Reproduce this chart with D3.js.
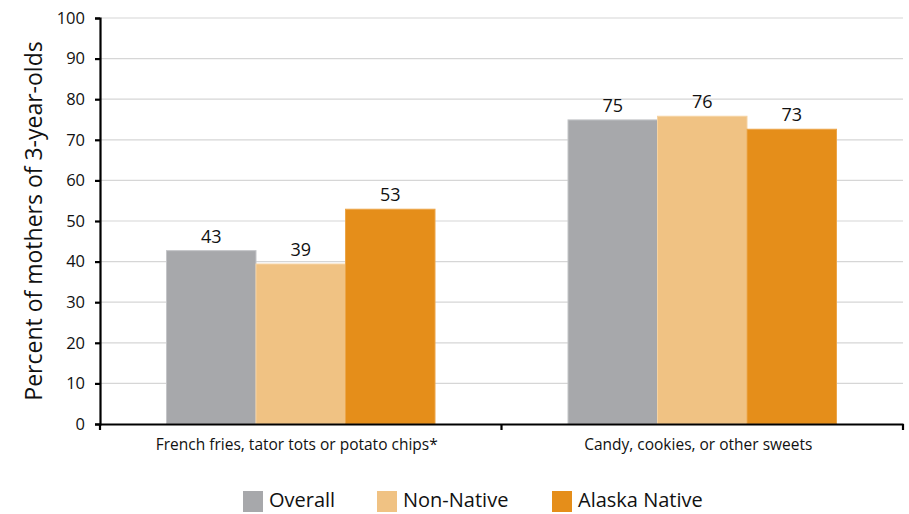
<!DOCTYPE html>
<html><head><meta charset="utf-8">
<script src="https://cdn.jsdelivr.net/npm/d3@7"></script>
<style>body{margin:0;background:#fff}svg{display:block}</style>
</head><body>
<svg id="c" width="909" height="514"></svg>
<script>
const categories = ["French fries, tator tots or potato chips*", "Candy, cookies, or other sweets"];
const seriesNames = ["Overall", "Non-Native", "Alaska Native"];
const overall = [42.7, 74.9];
const nonNative = [39.4, 75.8];
const alaskaNative = [52.9, 72.6];
const yTicks = [0, 10, 20, 30, 40, 50, 60, 70, 80, 90, 100];
const colors = ["#a7a8ab", "#f0c283", "#e58e1a"];
const strokes = ["#c4c5c8", "#f5d3a3", "#eca64a"];

const series = [overall, nonNative, alaskaNative];
const svg = d3.select("#c");
const L = 100, R = 903, T = 18, B = 424;
const font = "'Open Sans', sans-serif";

const x0 = d3.scaleBand().domain(categories).range([L, R]).paddingInner(0).paddingOuter(0);
const x1 = d3.scaleBand().domain(seriesNames).range([66.5, x0.bandwidth() - 66.5]);
const y = d3.scaleLinear().domain([0, 100]).range([B, T]);

// gridlines
svg.append("g").selectAll("line").data(yTicks.filter(d => d > 0)).join("line")
  .attr("x1", L).attr("x2", R).attr("y1", d => y(d)).attr("y2", d => y(d))
  .attr("stroke", "#d6d6d6").attr("stroke-width", 1.2);

// bars
const g = svg.append("g");
categories.forEach((c, i) => {
  series.forEach((s, j) => {
    const bx = x0(c) + x1(seriesNames[j]);
    g.append("rect").attr("x", bx).attr("y", y(s[i])).attr("width", x1.bandwidth())
      .attr("height", B - y(s[i])).attr("fill", colors[j])
      .attr("stroke", strokes[j]).attr("stroke-width", 1);
    g.append("text").attr("x", bx + x1.bandwidth() / 2).attr("y", y(s[i]) - 8)
      .attr("text-anchor", "middle").attr("font-family", font).attr("font-size", 18)
      .attr("fill", "#111").text(d3.format(".0f")(s[i]));
  });
});

// y axis
const ya = svg.append("g").attr("transform", `translate(${L},0)`)
  .call(d3.axisLeft(y).tickValues(yTicks).tickSize(5).tickPadding(10));
ya.select(".domain").attr("stroke", "#000").attr("stroke-width", 2.2);
ya.selectAll(".tick line").attr("stroke", "#000").attr("stroke-width", 2.2);
ya.selectAll(".tick text").attr("font-family", font).attr("font-size", 16.5).attr("fill", "#111");

// x axis
const xa = svg.append("g").attr("transform", `translate(0,${B})`)
  .call(d3.axisBottom(x0).tickSize(0).tickPadding(0));
xa.select(".domain").attr("stroke", "#000").attr("stroke-width", 2.2);
xa.selectAll(".tick text").attr("font-family", font)
  .attr("font-size", 15.5).attr("fill", "#111").attr("dy", null).attr("y", 26).attr("dx", -4);
const bounds = [L, x0(categories[1]), R];
svg.append("g").selectAll("line").data(bounds).join("line")
  .attr("x1", d => d).attr("x2", d => d).attr("y1", B).attr("y2", B + 6)
  .attr("stroke", "#000").attr("stroke-width", 2.2);

// y title
svg.append("text").attr("transform", `translate(42,${(T + B) / 2}) rotate(-90)`)
  .attr("text-anchor", "middle").attr("font-family", font).attr("font-size", 23)
  .attr("fill", "#111").text("Percent of mothers of 3-year-olds");

// legend
const legX = [243, 377, 552];
seriesNames.forEach((n, j) => {
  svg.append("rect").attr("x", legX[j]).attr("y", 491).attr("width", 20).attr("height", 21).attr("fill", colors[j]);
  svg.append("text").attr("x", legX[j] + 26).attr("y", 507).attr("font-family", font)
    .attr("font-size", 20).attr("fill", "#111").text(n);
});
</script>
</body></html>
